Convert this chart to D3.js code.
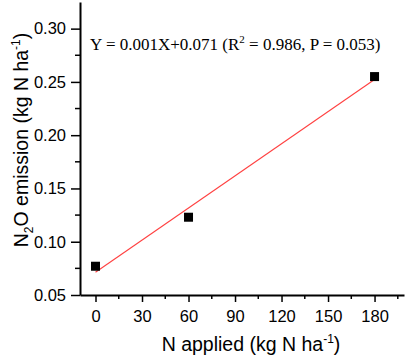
<!DOCTYPE html>
<html>
<head>
<meta charset="UTF-8">
<script src="https://d3js.org/d3.v7.min.js"></script>
<style>
  body { margin: 0; background: #fff; }
</style>
</head>
<body>
<script>
// data
const nApplied = [0, 60, 180];
const n2oEmission = [0.077, 0.123, 0.255];
const fitX = [0, 180];
const fitY = [0.0713, 0.2522];
const xTicks = [0, 30, 60, 90, 120, 150, 180];
const yTicks = [0.05, 0.10, 0.15, 0.20, 0.25, 0.30];
const xMinor = [15, 45, 75, 105, 135, 165, 195];
const yMinor = [0.075, 0.125, 0.175, 0.225, 0.275];

const W = 408, H = 359;
const m = {left: 80, right: 404, top: 2, bottom: 295};

const svg = d3.select("body").append("svg")
  .attr("width", W).attr("height", H);

const x = d3.scaleLinear().domain([-10, 199]).range([m.left, m.right]);
const y = d3.scaleLinear().domain([0.05, 0.325]).range([m.bottom, m.top]);

const tickFont = "'Liberation Sans', Arial, sans-serif";

// x axis
const gx = svg.append("g").attr("transform", "translate(0," + m.bottom + ")")
  .call(d3.axisBottom(x).tickValues(xTicks).tickSize(7).tickPadding(8).tickSizeOuter(0));
gx.append("g").selectAll("line").data(xMinor).enter().append("line")
  .attr("x1", d => x(d)).attr("x2", d => x(d)).attr("y1", 0).attr("y2", 4)
  .attr("stroke", "#000").attr("stroke-width", 1.5);

// y axis
const gy = svg.append("g").attr("transform", "translate(" + m.left + ",0)")
  .call(d3.axisLeft(y).tickValues(yTicks).tickFormat(d3.format(".2f")).tickSize(9).tickPadding(5).tickSizeOuter(0));
gy.append("g").selectAll("line").data(yMinor).enter().append("line")
  .attr("y1", d => y(d)).attr("y2", d => y(d)).attr("x1", 0).attr("x2", -5)
  .attr("stroke", "#000").attr("stroke-width", 1.5);

svg.selectAll(".domain").attr("stroke", "#000").attr("stroke-width", 2);
svg.selectAll(".tick line").attr("stroke", "#000").attr("stroke-width", 1.5);
svg.selectAll(".tick text").attr("font-family", tickFont).attr("font-size", 16.5).attr("fill", "#000");

// fit line
svg.append("line")
  .attr("x1", x(fitX[0])).attr("y1", y(fitY[0]))
  .attr("x2", x(fitX[1])).attr("y2", y(fitY[1]))
  .attr("stroke", "#ff4040").attr("stroke-width", 1.1);

// points
const s = 9;
svg.selectAll("rect.pt").data(nApplied).enter().append("rect")
  .attr("class", "pt")
  .attr("x", (d, i) => x(d) - s / 2)
  .attr("y", (d, i) => y(n2oEmission[i]) - s / 2)
  .attr("width", s).attr("height", s).attr("fill", "#000");

// equation
const eq = svg.append("text")
  .attr("x", 90).attr("y", 50)
  .attr("font-family", "'Liberation Serif', 'Times New Roman', serif")
  .attr("font-size", 17).attr("fill", "#000");
eq.append("tspan").text("Y = 0.001X+0.071 (R");
eq.append("tspan").attr("dy", -7).attr("font-size", 11).text("2");
eq.append("tspan").attr("dy", 7).text(" = 0.986, P = 0.053)");

// x title
const xt = svg.append("text")
  .attr("x", 251).attr("y", 351).attr("text-anchor", "middle")
  .attr("font-family", tickFont).attr("font-size", 19.5).attr("fill", "#000");
xt.append("tspan").text("N applied (kg N ha");
xt.append("tspan").attr("dy", -8).attr("font-size", 12).text("-1");
xt.append("tspan").attr("dy", 8).text(")");

// y title
const yt = svg.append("text")
  .attr("transform", "translate(28,140) rotate(-90)").attr("text-anchor", "middle")
  .attr("font-family", tickFont).attr("font-size", 19.5).attr("fill", "#000");
yt.append("tspan").text("N");
yt.append("tspan").attr("dy", 5).attr("font-size", 12).text("2");
yt.append("tspan").attr("dy", -5).text("O emission (kg N ha");
yt.append("tspan").attr("dy", -8).attr("font-size", 12).text("-1");
yt.append("tspan").attr("dy", 8).text(")");
</script>
</body>
</html>
